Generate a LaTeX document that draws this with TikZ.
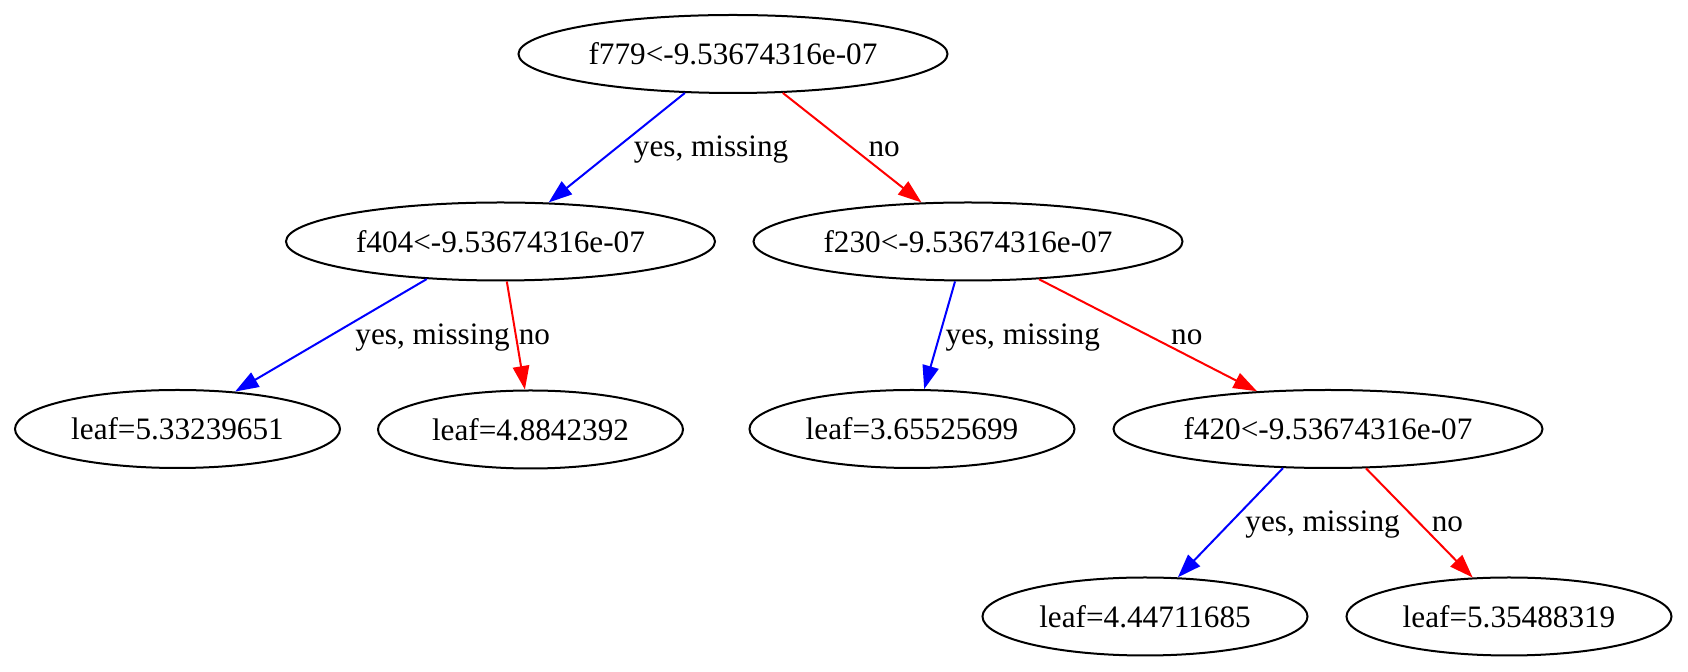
\documentclass[tikz,border=0pt]{standalone}
\usepackage{fontspec}
\setmainfont{Liberation Serif}
\usepackage{tikz}
\usetikzlibrary{shapes.geometric}
\usetikzlibrary{arrows.meta}

\begin{document}
\begin{tikzpicture}[x=0.5pt, y=-0.5pt,
  font=\fontsize{15.6}{18}\selectfont,
  split/.style={draw, ellipse, line width=1pt, inner sep=0pt, minimum height=39pt, minimum width=214.5pt},
  leaf/.style={split, minimum width=162.5pt},
  yesedge/.style={blue, line width=1pt, -{Triangle[length=11.75pt, width=8.2pt]}},
  noedge/.style={red, line width=1pt, -{Triangle[length=11.75pt, width=8.2pt]}},
  lbl/.style={black, anchor=west, inner sep=0pt, yshift=-2pt, text height=0.7em, text depth=0.2em}]
\useasboundingbox (0,0) rectangle (1688,672);

\node [split] (f779) at (733,54) {f779<-9.53674316e-07};
\node [split] (f404) at (500.5,241.5) {f404<-9.53674316e-07};
\node [split] (f230) at (968,241.5) {f230<-9.53674316e-07};
\node [leaf] (leafa) at (177.5,429) {leaf=5.33239651};
\node [leaf, minimum width=152.5pt] (leafb) at (530.5,429.5) {leaf=4.8842392};
\node [leaf] (leafc) at (912,429) {leaf=3.65525699};
\node [split] (f420) at (1328,429) {f420<-9.53674316e-07};
\node [leaf] (leafd) at (1145,616.5) {leaf=4.44711685};
\node [leaf] (leafe) at (1509,616.5) {leaf=5.35488319};

\draw [yesedge] (f779.219) -- (f404.39) node [lbl, pos=0.5, xshift=8.1pt] {yes, missing};
\draw [noedge] (f779.322) -- (f230.140) node [lbl, pos=0.5, xshift=7.75pt] {no};
\draw [yesedge] (f404.207) -- (leafa.33.4) node [lbl, pos=0.5, xshift=11.75pt] {yes, missing};
\draw [noedge] (f404.279.5) -- (leafb.98) node [lbl, pos=0.5, xshift=1pt] {no};
\draw [yesedge] (f230.252.7) -- (leafc.73.7) node [lbl, pos=0.5, xshift=2.5pt] {yes, missing};
\draw [noedge] (f230.332.5) -- (f420.152.5) node [lbl, pos=0.5, xshift=11.1pt] {no};
\draw [yesedge] (f420.221.8) -- (leafd.50.5) node [lbl, pos=0.5, xshift=7pt] {yes, missing};
\draw [noedge] (f420.314.9) -- (leafe.133.8) node [lbl, pos=0.5, xshift=5.75pt] {no};
\end{tikzpicture}
\end{document}
